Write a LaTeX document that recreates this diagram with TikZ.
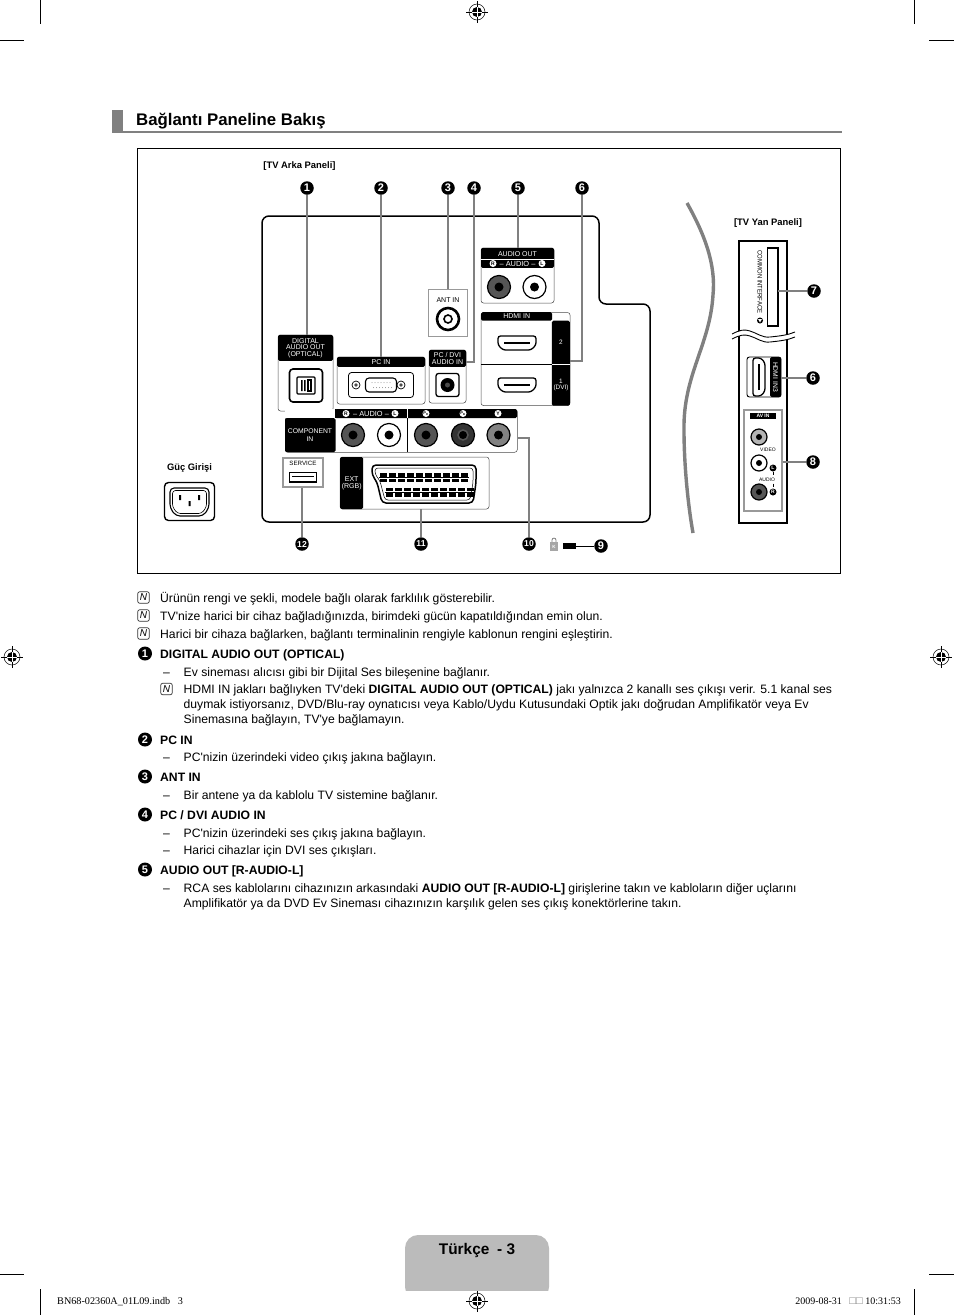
\documentclass[tikz,border=0pt]{standalone}
\usepackage{fontspec}
\setmainfont[Ligatures=TeXOff]{Liberation Sans}
\newfontfamily\footfont{Liberation Serif}
\usetikzlibrary{positioning,shapes.misc}
\definecolor{leadgray}{RGB}{128,128,128}
\definecolor{tabgray}{RGB}{187,187,187}
\definecolor{ringdark}{RGB}{85,85,85}
\definecolor{ringmid}{RGB}{130,130,130}
\newcommand{\fsz}[1]{\fontsize{#1}{#1}\selectfont}
\tikzset{
  lead/.style={draw=leadgray,line width=1.5pt},
  badge/.style={circle,fill=black,text=white,inner sep=0pt,minimum size=13.5pt,font=\fsz{11}\bfseries},
  bigbadge/.style={badge,minimum size=14pt},
  tinybadge/.style={badge,font=\fsz{8.6}\bfseries},
  pbox/.style={draw=black!70,line width=0.5pt,rounded corners=2.5pt,fill=white,inner sep=0pt},
  gbox/.style={draw=leadgray!80,line width=1.4pt,fill=white,inner sep=0pt},
  hdr/.style={fill=black,text=white,inner sep=0pt,align=center,font=\fsz{7},rounded corners=1.5pt},
  minic/.style={circle,fill=white,text=black,inner sep=0pt,minimum size=7pt,font=\fsz{5}\bfseries},
  jack/.style={circle,draw=black,line width=1.2pt,inner sep=0pt},
  hole/.style={circle,fill=black,inner sep=0pt,minimum size=9pt},
  portline/.style={draw=black,line width=1.3pt,rounded corners=2.5pt,fill=white},
  bodytxt/.style={anchor=base west,inner sep=0pt,font=\fsz{12.17}},
  headtxt/.style={bodytxt,font=\fsz{12.17}\bfseries},
  noteic/.style={draw=black!80,line width=0.7pt,rounded corners=2pt,inner sep=0pt,minimum size=11.5pt,font=\fsz{10}\itshape},
  reg/.style={circle,draw=black,line width=0.5pt,fill=white,inner sep=0pt,minimum size=16pt}
}
\begin{document}
\begin{tikzpicture}[x=1pt,y=-1pt]
  \useasboundingbox (0,0) rectangle (954,1315);
  % crop marks
  \draw[line width=0.6pt] (40.5,0) -- (40.5,24) (0,40) -- (24,40) (914,0) -- (914,24) (929,40) -- (954,40);
  \draw[line width=0.6pt] (0,1274) -- (24,1274) (929,1274) -- (954,1274) (40.5,1289) -- (40.5,1315) (914,1289) -- (914,1315);
  \foreach \nm/\px/\py in {regt/477/12,regl/12/657,regr/941/657,regb/477/1301}{
    \node[reg] (\nm) at (\px,\py) {};
    \fill (\px,\py) circle (5pt);
    \draw[white,line width=0.7pt] (\px-5,\py) -- (\px+5,\py) (\px,\py-5) -- (\px,\py+5);
    \draw[line width=0.4pt] (\px-11,\py) -- (\px-5,\py) (\px+5,\py) -- (\px+11,\py) (\px,\py-11) -- (\px,\py-5) (\px,\py+5) -- (\px,\py+11);
  }
  % heading
  \fill[leadgray] (112,110) rectangle (123,132);
  \draw[leadgray,line width=1.8pt] (112,132) -- (842,132);
  \node[anchor=base west,inner sep=0pt,font=\fsz{16.8}\bfseries] (title) at (136,125) {Bağlantı Paneline Bakış};
  % frame and back panel
  \draw[line width=0.5pt] (137,148) rectangle (840,573);
  \draw[line width=1.5pt,rounded corners=7pt] (262,522) -- (262,216) -- (599,216) -- (599,304) -- (650,304) -- (650,522) -- cycle;
  \node[font=\fsz{9.4}\bfseries,inner sep=0pt] (arka) at (299.5,166.5) {[TV Arka Paneli]};
  \node[font=\fsz{9.4}\bfseries,inner sep=0pt] (yan) at (768,223.5) {[TV Yan Paneli]};
  \node[font=\fsz{9.4}\bfseries,inner sep=0pt] (guc) at (189.5,468.5) {Güç Girişi};
  % number badges
  \foreach \nm/\px/\py/\lab in {b1/307/188/1,b2/381/188/2,b3/448/188/3,b4/474/188/4,b5/518/188/5,b6/582/188/6,b7/814/291/7,b6s/813/378/6,b8/813/462/8,b9/601/546/9}
    \node[badge] (\nm) at (\px,\py) {\lab};
  \foreach \nm/\px/\py/\lab in {b10/529/544/10,b11/421/544/11,b12/302/544/12}
    \node[tinybadge] (\nm) at (\px,\py) {\lab};
  % digital audio out
  \node[pbox,minimum width=55pt,minimum height=76pt] (digital) at (305.5,373) {};
  \node[hdr,minimum width=55pt,minimum height=26pt,below=0pt of digital.north] (digitalh) {DIGITAL\\[-0.5pt]AUDIO OUT\\[-0.5pt](OPTICAL)};
  \node[draw=black,line width=1.6pt,rounded corners=3.5pt,minimum width=33pt,minimum height=33pt,inner sep=0pt] (opt) at (306,385.5) {};
  \node[draw=black,line width=1.2pt,rounded corners=1pt,minimum width=18pt,minimum height=17pt,inner sep=0pt] (opti) at (306,385.5) {};
  \fill (301,380) rectangle (302.5,391) (304,380) rectangle (305.5,391);
  \draw[line width=1.2pt] (308,380) rectangle (311,391);
  % pc in
  \node[pbox,minimum width=88pt,minimum height=47pt] (pcin) at (381,380.5) {};
  \node[hdr,minimum width=88pt,minimum height=10pt,below=0pt of pcin.north] (pcinh) {PC IN};
  \node[draw=black,line width=0.8pt,rounded corners=3pt,minimum width=65pt,minimum height=25pt,inner sep=0pt] (vga) at (381,385) {};
  \node[draw=black,line width=1.1pt,rounded corners=3.5pt,minimum width=31pt,minimum height=14pt,inner sep=0pt] (vgai) at (381,385) {};
  \foreach \px in {356,401}{
    \draw[line width=0.7pt] (\px,385) circle (4pt);
    \fill[black!70] (\px,385) circle (1.8pt);
  }
  \foreach \px in {372,375,...,390}{
    \fill[black!45] (\px,382.5) circle (0.5pt) (\px+1.5,387.5) circle (0.5pt);
  }
  % ant in
  \node[gbox,line width=0.9pt,minimum width=39pt,minimum height=47pt] (antin) at (447.5,312.5) {};
  \node[font=\fsz{7},inner sep=0pt] (antt) at (448,300.5) {ANT IN};
  \node[jack,line width=2.6pt,minimum size=22pt] (coax) at (448,319) {};
  \node[circle,draw=black,line width=1.6pt,inner sep=0pt,minimum size=8pt] (coaxi) at (448,319) {};
  % pc dvi audio in
  \node[pbox,minimum width=37pt,minimum height=53pt] (pcdvi) at (447.5,376.5) {};
  \node[hdr,minimum width=37pt,minimum height=17pt,below=0pt of pcdvi.north] (pcdvih) {PC / DVI\\[-0.5pt]AUDIO IN};
  \node[draw=black,line width=1.3pt,rounded corners=2.5pt,minimum size=23pt,inner sep=0pt] (dvij) at (447.5,385) {};
  \node[circle,fill=black,inner sep=0pt,minimum size=14pt] (dvio) at (447.5,385) {};
  \node[circle,fill=black!70,inner sep=0pt,minimum size=5pt] (dvii) at (447.5,385) {};
  % audio out
  \node[pbox,minimum width=73pt,minimum height=55pt] (aout) at (517.5,275.5) {};
  \node[hdr,minimum width=73pt,minimum height=20pt,below=0pt of aout.north] (aouth) {};
  \node[font=\fsz{7},text=white,inner sep=0pt] (aoutt) at (517.5,254) {AUDIO OUT};
  \draw[white,line width=0.5pt] (481,259) -- (554,259);
  \node[minic] (aoutr) at (493,263.5) {R};
  \node[font=\fsz{7.4},text=white,inner sep=0pt] (aouta) at (517.5,263.5) {– AUDIO –};
  \node[minic] (aoutl) at (542,263.5) {L};
  % hdmi in
  \node[pbox,minimum width=89pt,minimum height=93pt] (hdmi) at (525.5,359) {};
  \node[hdr,anchor=north west,minimum width=71pt,minimum height=8.5pt] (hdmih) at (481,312) {HDMI IN};
  \node[hdr,anchor=north east,minimum width=18pt,minimum height=85pt] (hdmic) at (570,320.5) {};
  \node[font=\fsz{6.4},text=white,inner sep=0pt] (hdmi2) at (561,342) {2};
  \node[font=\fsz{6.4},text=white,inner sep=0pt,align=center] (hdmi1) at (561,385) {1\\(DVI)};
  \draw[line width=0.7pt] (481,364) -- (552,364);
  \draw[white,line width=0.5pt] (552,364) -- (570,364);
  \foreach \px/\py/\rot in {517/343/0,517/385/0}{
    \begin{scope}[shift={(\px,\py)},rotate=\rot]
      \draw[portline] (-19,-7) -- (19,-7) -- (19,2) -- (14,7) -- (-14,7) -- (-19,2) -- cycle;
      \draw[line width=1.8pt] (-13,0) -- (13,0);
    \end{scope}
  }
  % component in
  \node[pbox,anchor=north west,minimum width=232pt,minimum height=43pt] (comp) at (285,409) {};
  \fill[rounded corners=1.5pt] (335,409) -- (517,409) -- (517,418) -- (335,418) -- cycle;
  \fill[rounded corners=1.5pt] (285,418) rectangle (335.5,452);
  \fill (325,409) rectangle (336,418);
  \fill[white] (285,409) rectangle (335,417.6);
  \node[font=\fsz{6.8},text=white,inner sep=0pt,align=center] (compt) at (310,435.5) {COMPONENT\\[1pt]IN};
  \draw[line width=0.7pt] (407.5,418) -- (407.5,452);
  \draw[white,line width=0.7pt] (407.5,409) -- (407.5,418);
  \node[minic] (compr) at (346,413.5) {R};
  \node[font=\fsz{7.4},text=white,inner sep=0pt] (compa) at (371,413.5) {– AUDIO –};
  \node[minic] (compl) at (395,413.5) {L};
  \node[minic,font=\fsz{4}\bfseries] (comppr) at (426,413.5) {P\textsubscript{R}};
  \node[minic,font=\fsz{4}\bfseries] (comppb) at (463,413.5) {P\textsubscript{B}};
  \node[minic] (compy) at (498,413.5) {Y};
  % round jacks of the back panel
  \foreach \nm/\px/\py/\ringcol in {ja/499/287/ringdark,jb/534.5/287/white,jc/353/435/ringdark,jd/389/435/white,je/426/435/ringdark,jg/498.5/435/ringmid}{
    \node[jack,fill=\ringcol,minimum size=23pt] (\nm) at (\px,\py) {};
    \node[hole] (\nm h) at (\px,\py) {};
  }
  \node[jack,fill=black!80,minimum size=23pt] (jf) at (463,435) {};
  \node[circle,draw=ringdark,line width=1.5pt,fill=black,inner sep=0pt,minimum size=10pt] (jfh) at (463,435) {};
  % service
  \node[gbox,minimum width=40pt,minimum height=29pt] (serv) at (303,472.5) {};
  \node[font=\fsz{6.2},inner sep=0pt] (servt) at (303,463.5) {SERVICE};
  \node[draw=black,line width=1.5pt,minimum width=27pt,minimum height=9.5pt,inner sep=0pt] (usb) at (303,477) {};
  \draw[line width=0.7pt] (292,476) -- (314,476);
  % ext rgb
  \node[pbox,minimum width=149pt,minimum height=52pt] (ext) at (414.5,483) {};
  \node[hdr,anchor=west,minimum width=23pt,minimum height=52pt,text=white] (exth) at (340,483) {EXT\\(RGB)};
  \draw[line width=1.5pt,rounded corners=4pt,fill=white] (372,465) -- (476,465) -- (476,483) -- (473,503) -- (382,503) -- (377,482) -- (372,475) -- cycle;
  \draw[line width=0.5pt,rounded corners=3pt] (375,468) -- (473,468) -- (473,483) -- (470,500) -- (385,500) -- (380,481) -- (375,474) -- cycle;
  \foreach \i in {0,...,9}{
    \fill (380+\i*9,473) rectangle +(7,3.5);
    \fill (380+\i*9,478.5) rectangle +(7,3.5);
    \fill (386+\i*9,487.5) rectangle +(7,3.5);
    \fill (386+\i*9,493) rectangle +(7,3.5);
  }
  \draw[line width=0.5pt] (379,477.3) -- (469,477.3) (385,492.3) -- (475,492.3);
  % power inlet
  \node[draw=black,line width=1.4pt,rounded corners=4pt,minimum width=50pt,minimum height=38pt,inner sep=0pt] (powr) at (189.5,501.5) {};
  \draw[line width=1.1pt,rounded corners=4pt] (170,488) -- (209,488) -- (209,508) -- (203,516) -- (176,516) -- (170,508) -- cycle;
  \draw[line width=0.6pt,rounded corners=3pt] (172.5,490.5) -- (206.5,490.5) -- (206.5,507) -- (201.5,513.5) -- (177.5,513.5) -- (172.5,507) -- cycle;
  \fill (179,495) rectangle (181,500) (198,495) rectangle (200,500) (188.5,501) rectangle (190.5,506);
  % lock and cable
  \draw[leadgray,line width=0.8pt] (552,542) -- (552,540) .. controls (552,537.5) and (556,537.5) .. (556,540) -- (556,542);
  \fill[leadgray!70] (550,542) rectangle (558,551);
  \node[font=\fsz{4.5}\bfseries,text=white,inner sep=0pt] (lockk) at (554,546.5) {K};
  \node[fill=black,minimum width=13pt,minimum height=6pt,inner sep=0pt] (cable) at (569.5,546) {};
  \draw[line width=0.7pt] (cable) -- (b9);
  % side panel
  \draw[line width=1.1pt,fill=white] (739,241) rectangle (787,523);
  \fill[white] (732,334) .. controls (740,330) and (744,329) .. (750,331) .. controls (757,333) and (762,338) .. (770,337) .. controls (780,336) and (788,335) .. (795,332) -- (795,337) .. controls (788,340) and (780,341) .. (770,342) .. controls (762,343) and (757,338) .. (750,336) .. controls (744,334) and (740,335) .. (732,339) -- cycle;
  \draw[line width=0.9pt] (732,334) .. controls (740,330) and (744,329) .. (750,331) .. controls (757,333) and (762,338) .. (770,337) .. controls (780,336) and (788,335) .. (795,332);
  \draw[line width=0.9pt] (732,339) .. controls (740,335) and (744,334) .. (750,336) .. controls (757,338) and (762,343) .. (770,342) .. controls (780,341) and (788,340) .. (795,337);
  \node[draw=black,line width=0.7pt,minimum width=10pt,minimum height=77pt,inner sep=0pt] (slot) at (772.5,287) {};
  \draw[line width=1.6pt] (767,248) -- (778,248) -- (778,326) -- (767,326);
  \node[rotate=-90,font=\fsz{6.6},inner sep=0pt] (cit) at (760,282) {\scalebox{0.9}[1]{COMMON INTERFACE}};
  \node[circle,fill=black,inner sep=0pt,minimum size=6pt] (citc) at (760,320.5) {};
  \fill[white] (758,319) -- (762,319) -- (760,322.5) -- cycle;
  \node[draw=black,line width=0.9pt,rounded corners=2.5pt,minimum width=34pt,minimum height=40pt,inner sep=0pt] (hdmis) at (764,377) {};
  \fill[rounded corners=1.5pt] (770,357) rectangle (781,397);
  \begin{scope}[shift={(759,377)},rotate=90]
    \draw[portline] (-19,-6) -- (19,-6) -- (19,2) -- (14,6) -- (-14,6) -- (-19,2) -- cycle;
    \draw[line width=1.8pt] (-13,0) -- (13,0);
  \end{scope}
  \node[rotate=-90,font=\fsz{6.8},text=white,inner sep=0pt] (hdmist) at (775.5,377) {HDMI IN3};
  \node[gbox,minimum width=38pt,minimum height=101pt] (avin) at (763,460.5) {};
  \node[fill=black,text=white,font=\fsz{5}\bfseries,minimum width=26pt,minimum height=6pt,inner sep=0pt] (avh) at (763,416) {AV IN};
  \foreach \nm/\py/\ringcol in {sa/437/ringmid!60,sb/463/white,sc/492/ringdark}{
    \node[jack,fill=\ringcol,minimum size=16pt] (\nm) at (759,\py) {};
    \node[hole,minimum size=6pt] (\nm h) at (759,\py) {};
  }
  \node[font=\fsz{5},inner sep=0pt] (vidt) at (768,449.5) {VIDEO};
  \node[minic,fill=black,text=white] (sl) at (773,468) {L};
  \node[minic,fill=black,text=white] (sr) at (773,492) {R};
  \draw[line width=0.5pt,dashed] (sl) -- (sr);
  \node[font=\fsz{5},inner sep=1pt,fill=white] (audt) at (767,479.5) {AUDIO};
  \draw[leadgray,line width=3.4pt] (687,203) .. controls (705,235) and (716,265) .. (713,295) .. controls (710,345) and (683,375) .. (684,430) .. controls (684,465) and (688,505) .. (693,533);
  % connectors
  \draw[lead] (b1) -- (b1 |- digital.north);
  \draw[lead] (b2) -- (b2 |- pcin.north);
  \draw[lead] (b3) -- (b3 |- antin.north);
  \draw[lead] (b4) |- (pcdvi.east |- 0,362);
  \draw[lead] (b5) -- (b5 |- aout.north);
  \draw[lead] (b6) |- (hdmic.east |- 0,361);
  \draw[lead] (b7) -- (slot.east |- b7);
  \draw[lead] (b6s) -- (hdmis.east |- b6s);
  \draw[lead] (b8) -- (avin.east |- b8);
  \draw[lead] (b10) |- (comp.east |- 0,438);
  \draw[lead] (b11) -- (b11 |- ext.south);
  \draw[lead] (b12) -- (b12 |- serv.south);
  % notes
  \foreach \nm/\py/\px in {na/597.5/143.5,nb/615.5/143.5,nc/633.5/143.5,nd/689/166.5}{
    \node[noteic] (\nm) at (\px,\py) {N};
  }
  \node[bodytxt] (ta) at (160,602) {Ürünün rengi ve şekli, modele bağlı olarak farklılık gösterebilir.};
  \node[bodytxt] (tb) at (160,620) {TV'nize harici bir cihaz bağladığınızda, birimdeki gücün kapatıldığından emin olun.};
  \node[bodytxt] (tc) at (160,638) {Harici bir cihaza bağlarken, bağlantı terminalinin rengiyle kablonun rengini eşleştirin.};
  % numbered items
  \foreach \nm/\py/\lab in {la/653.5/1,lb/739.5/2,lc/776.5/3,ld/814.5/4,le/869.5/5}{
    \node[bigbadge] (\nm) at (145,\py) {\lab};
  }
  \node[headtxt] (ha) at (160,658) {DIGITAL AUDIO OUT (OPTICAL)};
  \node[headtxt] (hb) at (160,744) {PC IN};
  \node[headtxt] (hc) at (160,781) {ANT IN};
  \node[headtxt] (hd) at (160,819) {PC / DVI AUDIO IN};
  \node[headtxt] (he) at (160,874) {AUDIO OUT [R-AUDIO-L]};
  \foreach \nm/\py in {da/676,db/761,dc/799,dd/837,de/854,df/892}{
    \node[bodytxt] (\nm) at (163,\py) {–};
  }
  \node[bodytxt] (xa) at (183.5,676) {Ev sineması alıcısı gibi bir Dijital Ses bileşenine bağlanır.};
  \node[bodytxt] (xb) at (183.5,693) {HDMI IN jakları bağlıyken TV'deki \textbf{DIGITAL AUDIO OUT (OPTICAL)} jakı yalnızca 2 kanallı ses çıkışı verir. 5.1 kanal ses};
  \node[bodytxt] (xc) at (183.5,708) {duymak istiyorsanız, DVD/Blu-ray oynatıcısı veya Kablo/Uydu Kutusundaki Optik jakı doğrudan Amplifikatör veya Ev};
  \node[bodytxt] (xd) at (183.5,723) {Sinemasına bağlayın, TV'ye bağlamayın.};
  \node[bodytxt] (xe) at (183.5,761) {PC'nizin üzerindeki video çıkış jakına bağlayın.};
  \node[bodytxt] (xf) at (183.5,799) {Bir antene ya da kablolu TV sistemine bağlanır.};
  \node[bodytxt] (xg) at (183.5,837) {PC'nizin üzerindeki ses çıkış jakına bağlayın.};
  \node[bodytxt] (xh) at (183.5,854) {Harici cihazlar için DVI ses çıkışları.};
  \node[bodytxt] (xi) at (183.5,892) {RCA ses kablolarını cihazınızın arkasındaki \textbf{AUDIO OUT [R-AUDIO-L]} girişlerine takın ve kabloların diğer uçlarını};
  \node[bodytxt] (xj) at (183.5,907) {Amplifikatör ya da DVD Ev Sineması cihazınızın karşılık gelen ses çıkış konektörlerine takın.};
  % page tab and footer
  \begin{scope}
    \clip (400,1230) rectangle (555,1290);
    \fill[tabgray,rounded corners=13pt] (405,1235) rectangle (549,1300);
  \end{scope}
  \node[font=\fsz{15.4}\bfseries,inner sep=0pt] (page) at (477,1251) {Türkçe\,\,\,- 3};
  \node[anchor=base west,font=\footfont\fsz{10.2},inner sep=0pt] (fa) at (57,1304) {BN68-02360A\_01L09.indb\ \ \ 3};
  \node[anchor=base east,font=\footfont\fsz{10},inner sep=0pt] (fb) at (901,1304) {2009-08-31\ \ \ \textcolor{black!50}{\fsz{11}□□}\ 10:31:53};
\end{tikzpicture}
\end{document}
